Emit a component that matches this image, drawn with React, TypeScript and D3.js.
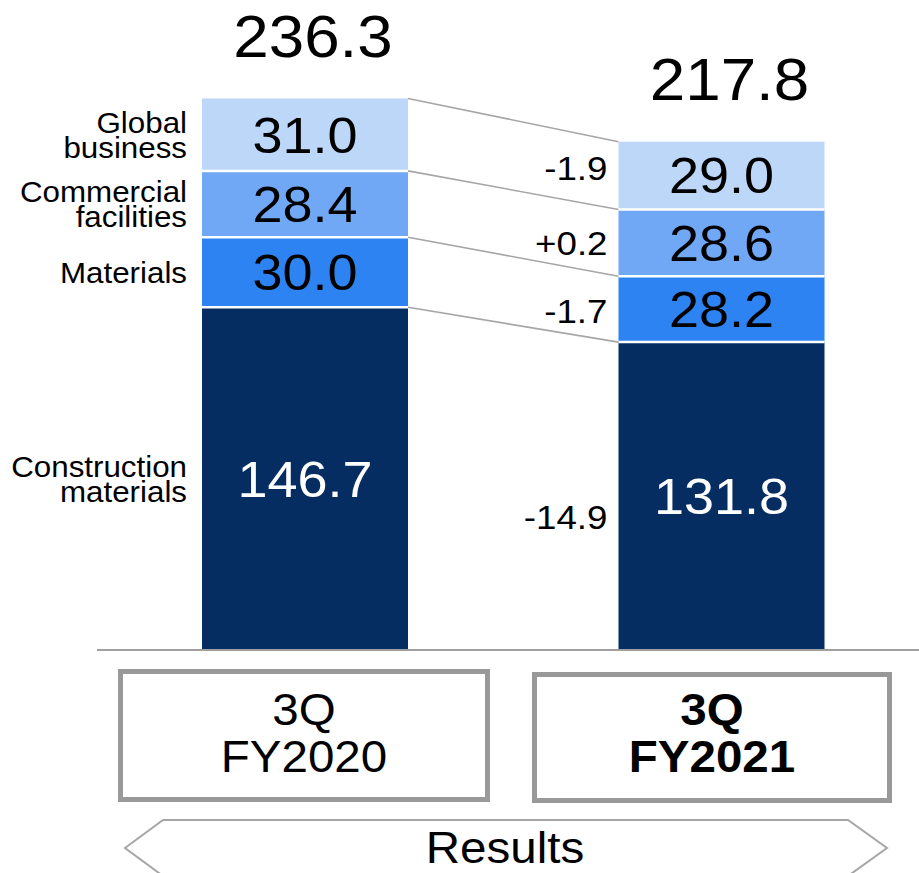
import React from "react";
import * as d3 from "d3";

const periods = ["3Q FY2020", "3Q FY2021"];
const periodLines = [["3Q", "FY2020"], ["3Q", "FY2021"]];
const segments = ["Construction materials", "Materials", "Commercial facilities", "Global business"];
const segmentLines = [["Construction", "materials"], ["Materials"], ["Commercial", "facilities"], ["Global", "business"]];
const valuesFY2020 = [146.7, 30.0, 28.4, 31.0];
const valuesFY2021 = [131.8, 28.2, 28.6, 29.0];
const deltaLabels = ["-14.9", "-1.7", "+0.2", "-1.9"];
const totals = [236.3, 217.8];
const footerLabel = "Results";

const colors = ["#062D62", "#2D83F1", "#70A8F5", "#BDD7F9"];
const labelColors = ["#ffffff", "#000000", "#000000", "#000000"];
// vertical nudges of the change labels (px), same order as segments
const deltaNudge = [21, 2, 0, -8];

const W = 919;
const H = 873;
const FONT = "'Liberation Sans', Arial, sans-serif";
const SX = 1.08;

function T({ x, y, size, anchor = "middle", weight = "normal", fill = "#000", lines, lh = 0, children }: any) {
  return (
    <text
      transform={`translate(${x},${y}) scale(${SX},1)`}
      fontSize={size}
      fontFamily={FONT}
      textAnchor={anchor}
      fontWeight={weight}
      fill={fill}
    >
      {lines
        ? lines.map((ln: string, k: number) => (
            <tspan key={k} x={0} y={k * lh}>
              {ln}
            </tspan>
          ))
        : children}
    </text>
  );
}

export default function App() {
  const rows = [valuesFY2020, valuesFY2021].map((vals, i) => {
    const r: any = { period: periods[i] };
    segments.forEach((s, j) => (r[s] = vals[j]));
    return r;
  });
  const stacked = d3.stack().keys(segments)(rows);

  const y = d3.scaleLinear().domain([0, 236.3]).range([650, 98]);
  const x = d3.scalePoint().domain(periods).range([305, 721.5]);
  const barW = 206;

  const cx = (i: number) => x(periods[i]) as number;
  const left = (i: number) => cx(i) - barW / 2;
  const right = (i: number) => cx(i) + barW / 2;

  const capLabel = 50 * 0.716;
  const capSide = 29 * 0.716;
  const capDelta = 34 * 0.716;

  const boxes = [
    { x: 120.5, y: 671.5, w: 367, h: 128 },
    { x: 534.5, y: 674.5, w: 355, h: 126 },
  ];

  const arrow = [
    [125, 848], [163, 820], [848, 820], [887, 848], [848, 876], [163, 876],
  ];

  return (
    <svg width={W} height={H} style={{ display: "block", position: "absolute", left: 0, top: 0 }}>
      <rect width={W} height={H} fill="#fff" />
      {/* connector lines */}
      {stacked.map((layer, j) => (
        <line
          key={"c" + j}
          x1={right(0)}
          y1={y(layer[0][1])}
          x2={left(1)}
          y2={y(layer[1][1])}
          stroke="#A6A6A6"
          strokeWidth={1.6}
        />
      ))}
      {/* bars */}
      {stacked.map((layer, j) =>
        layer.map((d, i) => (
          <rect
            key={`b${j}-${i}`}
            x={left(i)}
            y={y(d[1])}
            width={barW}
            height={y(d[0]) - y(d[1])}
            fill={colors[j]}
          />
        ))
      )}
      {/* white separators */}
      {stacked.slice(0, -1).map((layer, j) =>
        layer.map((d, i) => (
          <line
            key={`s${j}-${i}`}
            x1={left(i)}
            x2={right(i)}
            y1={y(d[1])}
            y2={y(d[1])}
            stroke="#fff"
            strokeWidth={2.5}
          />
        ))
      )}
      {/* segment labels */}
      {stacked.map((layer, j) =>
        layer.map((d, i) => (
          <T key={`l${j}-${i}`} x={cx(i)} y={(y(d[0]) + y(d[1])) / 2 + capLabel / 2} size={50} fill={labelColors[j]}>
            {(d[1] - d[0]).toFixed(1)}
          </T>
        ))
      )}
      {/* totals */}
      {totals.map((t, i) => (
        <T key={"t" + i} x={cx(i) + 8} y={y(t) - 41} size={59}>
          {t.toFixed(1)}
        </T>
      ))}
      {/* side category labels */}
      {stacked.map((layer, j) => {
        const d = layer[0];
        const c = (y(d[0]) + y(d[1])) / 2;
        const lines = segmentLines[j];
        const lh = 25;
        const first = c - ((lines.length - 1) * lh + capSide) / 2 + capSide;
        return <T key={`side${j}`} x={187} y={first} size={29} anchor="end" lines={lines} lh={lh} />;
      })}
      {/* delta labels */}
      {stacked.map((layer, j) => {
        const d = layer[1];
        const c = (y(d[0]) + y(d[1])) / 2;
        return (
          <T key={"d" + j} x={left(1) - 11} y={c + capDelta / 2 + deltaNudge[j]} size={34} anchor="end">
            {deltaLabels[j]}
          </T>
        );
      })}
      {/* axis line */}
      <line x1={97} x2={919} y1={650} y2={650} stroke="#A0A0A0" strokeWidth={2} />
      {/* period boxes */}
      {boxes.map((b, i) => (
        <g key={"box" + i}>
          <rect x={b.x} y={b.y} width={b.w} height={b.h} fill="#fff" stroke="#999999" strokeWidth={5} />
          <T
            x={b.x + b.w / 2}
            y={725}
            size={44}
            weight={i === 1 ? "bold" : "normal"}
            lines={periodLines[i]}
            lh={47}
          />
        </g>
      ))}
      {/* results arrow */}
      <polygon points={arrow.map((p) => p.join(",")).join(" ")} fill="#fff" stroke="#A6A6A6" strokeWidth={2} />
      <T x={505} y={863} size={44}>
        {footerLabel}
      </T>
    </svg>
  );
}
